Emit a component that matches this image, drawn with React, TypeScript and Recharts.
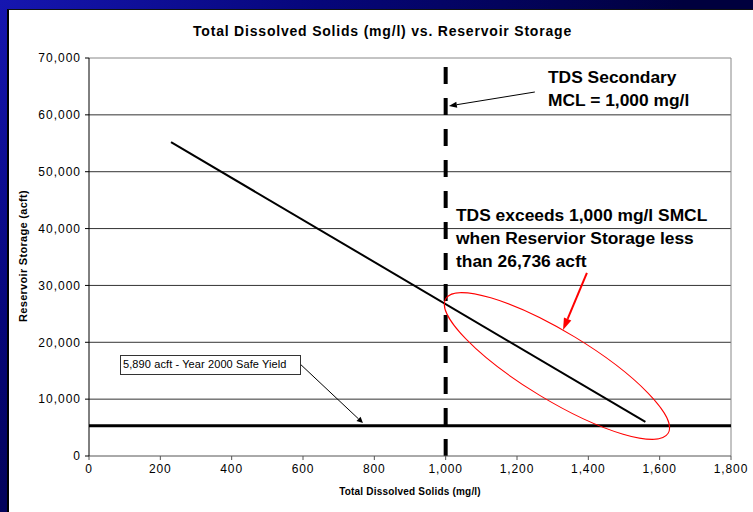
import React from "react";
import {
  LineChart,
  Line,
  XAxis,
  YAxis,
  CartesianGrid,
  ReferenceLine,
  ReferenceDot,
} from "recharts";

// values
const X_TICKS = [0, 200, 400, 600, 800, 1000, 1200, 1400, 1600, 1800];
const Y_TICKS = [0, 10000, 20000, 30000, 40000, 50000, 60000, 70000];
const TREND_TDS = [230, 1560];
const TREND_STORAGE = [55200, 6000];
const MCL_TDS = 1000;
const SAFE_YIELD_STORAGE = 5300;
const ELLIPSE_CENTER = { tds: 1312, storage: 15830 };
const MCL_ARROW = [{ x: 1250, y: 64020 }, { x: 1009, y: 61560 }];
const RED_ARROW = [{ x: 1396, y: 32190 }, { x: 1329, y: 22160 }];
const YIELD_ARROW = [{ x: 592, y: 16180 }, { x: 768, y: 5800 }];

const trendData = TREND_TDS.map((tds, i) => ({ tds, storage: TREND_STORAGE[i] }));

const FONT = "'Liberation Sans', Arial, Helvetica, sans-serif";
const fmt = (v: number) => v.toLocaleString("en-US");

function arrowShape(color: string, width: number, headLen: number, headW: number) {
  return (p: any) => {
    const { x1, y1, x2, y2 } = p;
    const a = Math.atan2(y2 - y1, x2 - x1);
    const bx = x2 - headLen * Math.cos(a);
    const by = y2 - headLen * Math.sin(a);
    const nx = -Math.sin(a) * headW;
    const ny = Math.cos(a) * headW;
    return (
      <g>
        <line x1={x1} y1={y1} x2={bx} y2={by} stroke={color} strokeWidth={width} />
        <polygon
          points={`${x2},${y2} ${bx + nx},${by + ny} ${bx - nx},${by - ny}`}
          fill={color}
        />
      </g>
    );
  };
}

const ellipseShape = (p: any) => (
  <ellipse
    cx={p.cx}
    cy={p.cy}
    rx={130}
    ry={34}
    fill="none"
    stroke="#ff0000"
    strokeWidth={1}
    transform={`rotate(31.2 ${p.cx} ${p.cy})`}
  />
);

const bigText: React.CSSProperties = {
  position: "absolute",
  fontFamily: FONT,
  fontWeight: "bold",
  fontSize: 17.4,
  lineHeight: "23px",
  color: "#000",
  whiteSpace: "nowrap",
};

export default function App() {
  return (
    <div
      style={{
        position: "absolute",
        left: 0,
        top: 0,
        width: 753,
        height: 512,
        overflow: "hidden",
        background: "radial-gradient(circle at 0 0, #1616b0 0%, #06067a 35%, #00003e 75%)",
        fontFamily: FONT,
      }}
    >
      <div
        style={{
          position: "absolute",
          left: 7,
          top: 9,
          width: 760,
          height: 520,
          background: "#fff",
          borderLeft: "2px solid #000",
          borderTop: "1px solid #111",
          boxSizing: "border-box",
        }}
      />
      <div
        style={{
          position: "absolute",
          left: 0,
          width: 753,
          top: 23,
          textAlign: "center",
          fontSize: 14,
          fontWeight: "bold",
          letterSpacing: 0.8,
          paddingLeft: 6,
        }}
      >
        Total Dissolved Solids (mg/l) vs. Reservoir Storage
      </div>
      <div style={{ position: "absolute", left: 0, top: 0 }}>
        <LineChart
          width={753}
          height={512}
          data={trendData}
          margin={{ top: 58, right: 22, bottom: 26, left: 29 }}
        >
          <CartesianGrid horizontal vertical={false} stroke="#333" horizontalValues={Y_TICKS.slice(1, -1)} />
          <XAxis
            type="number"
            dataKey="tds"
            domain={[0, 1800]}
            ticks={X_TICKS}
            tickFormatter={fmt}
            height={30}
            tickSize={4}
            tickMargin={4}
            stroke="#555"
            tick={{ fill: "#000", fontSize: 12, letterSpacing: 0.9, fontFamily: FONT }}
          />
          <YAxis
            type="number"
            domain={[0, 70000]}
            ticks={Y_TICKS}
            tickFormatter={fmt}
            width={60}
            tickSize={4}
            tickMargin={4}
            stroke="#000"
            tick={{ fill: "#000", fontSize: 12, letterSpacing: 1, fontFamily: FONT }}
          />
          <ReferenceLine y={70000} stroke="#888" strokeWidth={1} />
          <ReferenceLine x={1800} stroke="#888" strokeWidth={1} />
          <ReferenceLine y={SAFE_YIELD_STORAGE} stroke="#000" strokeWidth={3} />
          <ReferenceLine
            segment={[
              { x: MCL_TDS, y: 0 },
              { x: MCL_TDS, y: 70000 },
            ]}
            stroke="#000"
            strokeWidth={4}
            strokeDasharray="17 14"
          />
          <Line
            type="linear"
            dataKey="storage"
            stroke="#000"
            strokeWidth={2}
            dot={false}
            isAnimationActive={false}
          />
          <ReferenceDot
            x={ELLIPSE_CENTER.tds}
            y={ELLIPSE_CENTER.storage}
            shape={ellipseShape}
          />
          <ReferenceLine segment={MCL_ARROW} shape={arrowShape("#000", 1, 8, 3)} />
          <ReferenceLine segment={RED_ARROW} shape={arrowShape("#ff0000", 2, 12, 4)} />
          <ReferenceLine segment={YIELD_ARROW} shape={arrowShape("#000", 1, 6, 3)} />
        </LineChart>
      </div>
      <div
        style={{
          position: "absolute",
          left: 0,
          width: 820,
          top: 486,
          textAlign: "center",
          fontSize: 10,
          fontWeight: "bold",
          letterSpacing: 0.2,
        }}
      >
        Total Dissolved Solids (mg/l)
      </div>
      <div
        style={{
          position: "absolute",
          left: 23,
          top: 256,
          transform: "translate(-50%, -50%) rotate(-90deg)",
          fontSize: 11,
          fontWeight: "bold",
          whiteSpace: "nowrap",
          letterSpacing: 0.3,
        }}
      >
        Reservoir Storage (acft)
      </div>
      <div style={{ ...bigText, left: 548, top: 66 }}>
        TDS Secondary
        <br />
        MCL = 1,000 mg/l
      </div>
      <div style={{ ...bigText, left: 456, top: 204 }}>
        TDS exceeds 1,000 mg/l SMCL
        <br />
        when Reservior Storage less
        <br />
        than 26,736 acft
      </div>
      <div
        style={{
          position: "absolute",
          left: 120,
          top: 355,
          width: 181,
          height: 20,
          boxSizing: "border-box",
          border: "1px solid #333",
          background: "#fff",
          fontSize: 11,
          lineHeight: "16px",
          paddingLeft: 2,
          letterSpacing: 0.1,
          whiteSpace: "nowrap",
        }}
      >
        5,890 acft - Year 2000 Safe Yield
      </div>
    </div>
  );
}
